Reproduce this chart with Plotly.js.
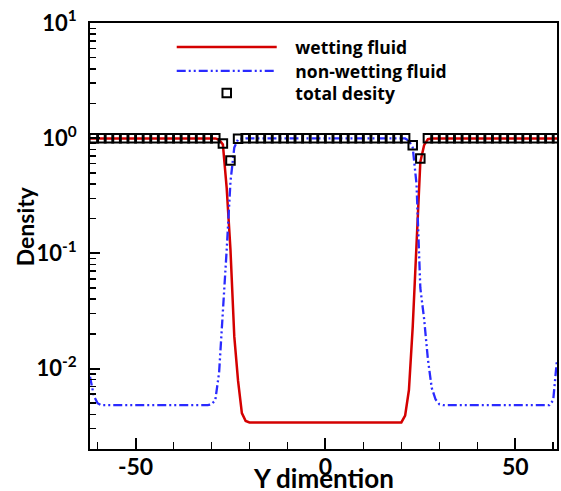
<!DOCTYPE html>
<html>
<head>
<meta charset="utf-8">
<script src="https://cdn.plot.ly/plotly-3.0.1.min.js"></script>
<style>html,body{margin:0;padding:0;background:#fff;}#chart{width:561px;height:491px;}</style>
</head>
<body>
<div id="chart"></div>
<script>
// Y dimention positions of the line profiles
var yPos = [
 -62,-61,-60,-59,-58,-57,-56,-55,-54,-53,
 -52,-51,-50,-49,-48,-47,-46,-45,-44,-43,
 -42,-41,-40,-39,-38,-37,-36,-35,-34,-33,
 -32,-31,-30,-29,-28,-27,-26,-25,-24,-23,
 -22,-21,-20,-19,-18,-17,-16,-15,-14,-13,
 -12,-11,-10,-9,-8,-7,-6,-5,-4,-3,
 -2,-1,0,1,2,3,4,5,6,7,
 8,9,10,11,12,13,14,15,16,17,
 18,19,20,21,22,23,24,25,26,27,
 28,29,30,31,32,33,34,35,36,37,
 38,39,40,41,42,43,44,45,46,47,
 48,49,50,51,52,53,54,55,56,57,
 58,59,60,61
];
// wetting fluid density
var wetting = [
 0.995,0.995,0.995,0.995,0.995,0.995,0.995,0.995,0.995,0.995,
 0.995,0.995,0.995,0.995,0.995,0.995,0.995,0.995,0.995,0.995,
 0.995,0.995,0.995,0.995,0.995,0.995,0.995,0.995,0.995,0.995,
 0.995,0.995,0.995,0.995,0.97,0.88,0.37,0.107,0.019,0.0078,
 0.0041,0.0035,0.0034,0.0034,0.0034,0.0034,0.0034,0.0034,0.0034,0.0034,
 0.0034,0.0034,0.0034,0.0034,0.0034,0.0034,0.0034,0.0034,0.0034,0.0034,
 0.0034,0.0034,0.0034,0.0034,0.0034,0.0034,0.0034,0.0034,0.0034,0.0034,
 0.0034,0.0034,0.0034,0.0034,0.0034,0.0034,0.0034,0.0034,0.0034,0.0034,
 0.0034,0.0034,0.0034,0.0039,0.0065,0.023,0.14,0.62,0.87,0.98,
 0.995,0.995,0.995,0.995,0.995,0.995,0.995,0.995,0.995,0.995,
 0.995,0.995,0.995,0.995,0.995,0.995,0.995,0.995,0.995,0.995,
 0.995,0.995,0.995,0.995,0.995,0.995,0.995,0.995,0.995,0.995,
 0.995,0.995,0.995,0.995
];
// non-wetting fluid density
var nonWetting = [
 0.0085,0.0058,0.005,0.0048,0.0048,0.0048,0.0048,0.0048,0.0048,0.0048,
 0.0048,0.0048,0.0048,0.0048,0.0048,0.0048,0.0048,0.0048,0.0048,0.0048,
 0.0048,0.0048,0.0048,0.0048,0.0048,0.0048,0.0048,0.0048,0.0048,0.0048,
 0.0048,0.0048,0.0049,0.0053,0.0092,0.029,0.107,0.42,0.83,0.98,
 0.995,0.995,0.995,0.995,0.995,0.995,0.995,0.995,0.995,0.995,
 0.995,0.995,0.995,0.995,0.995,0.995,0.995,0.995,0.995,0.995,
 0.995,0.995,0.995,0.995,0.995,0.995,0.995,0.995,0.995,0.995,
 0.995,0.995,0.995,0.995,0.995,0.995,0.995,0.995,0.995,0.995,
 0.995,0.995,0.995,0.995,0.95,0.83,0.40,0.05,0.027,0.012,
 0.0068,0.0054,0.0049,0.0048,0.0048,0.0048,0.0048,0.0048,0.0048,0.0048,
 0.0048,0.0048,0.0048,0.0048,0.0048,0.0048,0.0048,0.0048,0.0048,0.0048,
 0.0048,0.0048,0.0048,0.0048,0.0048,0.0048,0.0048,0.0048,0.0048,0.0048,
 0.0048,0.0048,0.0053,0.012
];
// total density samples
var totalPos = [
 -61,-59,-57,-55,-53,-51,-49,-47,-45,-43,
 -41,-39,-37,-35,-33,-31,-29,-27,-25,-23,
 -21,-19,-17,-15,-13,-11,-9,-7,-5,-3,
 -1,1,3,5,7,9,11,13,15,17,
 19,21,23,25,27,29,31,33,35,37,
 39,41,43,45,47,49,51,53,55,57,
 59,61
];
var totalDensity = [
 1,1,1,1,1,1,1,1,1,1,
 1,1,1,1,1,1,1,0.90,0.64,0.99,
 1,1,1,1,1,1,1,1,1,1,
 1,1,1,1,1,1,1,1,1,1,
 1,1,0.87,0.665,1,1,1,1,1,1,
 1,1,1,1,1,1,1,1,1,1,
 1,1
];
var seriesNames = ['wetting fluid', 'non-wetting fluid', 'total desity'];
var xTitle = 'Y dimention';
var yTitle = 'Density';
var yTickVals = [0.01, 0.1, 1, 10];
var yTickText = ['10<sup>-2</sup>', '10<sup>-1</sup>', '10<sup>0</sup>', '10<sup>1</sup>'];
var xTickVals = [-50, 0, 50];
var xTickText = ['-50', '0', '50'];

var yMinor = [];
[0.001, 0.01, 0.1, 1].forEach(function (d) {
  for (var k = 2; k <= 9; k++) yMinor.push(+(k * d).toPrecision(3));
});

var F = 'Lato, "Open Sans", sans-serif';
var LF = '"Open Sans", Lato, sans-serif';
var pad = '\u00a0\u00a0\u00a0';

var traces = [
  {x: yPos, y: wetting, name: pad + seriesNames[0], type: 'scatter', mode: 'lines',
   legend: 'legend', line: {color: '#d40000', width: 2.5}},
  {x: yPos, y: nonWetting, name: pad + seriesNames[1], type: 'scatter', mode: 'lines',
   legend: 'legend2', line: {color: '#2a2aff', width: 2.3, dash: '9px,3px,2px,3px,2px,3px'}},
  {x: totalPos, y: totalDensity, name: pad + seriesNames[2], type: 'scatter', mode: 'markers',
   legend: 'legend3',
   marker: {symbol: 'square-open', size: 8.5, color: '#000', line: {width: 2, color: '#000'}}}
];

function leg(py) {
  return {x: 0.175, y: (449 - py) / 426, xanchor: 'left', yanchor: 'middle', bgcolor: 'rgba(0,0,0,0)',
          borderwidth: 0, itemwidth: 100,
          font: {family: LF, size: 17.5, color: '#000', weight: 'bold'}};
}

var layout = {
  width: 561, height: 491,
  margin: {l: 90, r: 4, t: 23, b: 42},
  paper_bgcolor: '#fff', plot_bgcolor: '#fff',
  font: {family: F, color: '#000', weight: 'bold'},
  showlegend: true,
  legend: leg(47), legend2: leg(71), legend3: leg(93),
  xaxis: {
    range: [-62, 61], tickmode: 'array', tickvals: xTickVals, ticktext: xTickText,
    ticks: 'inside', ticklen: 11, tickwidth: 2, tickcolor: '#000',
    minor: {dtick: 10, tick0: 0, ticks: 'inside', ticklen: 7, tickwidth: 1.5, tickcolor: '#000'},
    showline: true, linewidth: 2, linecolor: '#000', mirror: true,
    showgrid: false, zeroline: false,
    tickfont: {family: F, size: 23, color: '#000', weight: 'bold'},
    ticklabelstandoff: -4
  },
  yaxis: {
    type: 'log', range: [Math.log10(0.002), 1],
    tickmode: 'array', tickvals: yTickVals, ticktext: yTickText,
    ticks: 'inside', ticklen: 10, tickwidth: 2, tickcolor: '#000',
    minor: {tickmode: 'array', tickvals: yMinor, ticks: 'inside', ticklen: 6, tickwidth: 1.5, tickcolor: '#000'},
    showline: true, linewidth: 2, linecolor: '#000', mirror: true,
    showgrid: false, zeroline: false,
    tickfont: {family: F, size: 22, color: '#000', weight: 'bold'},
    ticklabelstandoff: 7
  },
  annotations: [
    {text: xTitle, xref: 'paper', yref: 'paper', x: 0.499, y: -0.026, xanchor: 'center', yanchor: 'top',
     showarrow: false, font: {family: F, size: 26, color: '#000', weight: 'bold'}},
    {text: yTitle, xref: 'paper', yref: 'paper', x: -0.139, y: 0.523, xanchor: 'center', yanchor: 'middle',
     textangle: -90, showarrow: false, font: {family: F, size: 23, color: '#000', weight: 'bold'}}
  ]
};

Plotly.newPlot('chart', traces, layout, {displayModeBar: false, staticPlot: true});
</script>
</body>
</html>
